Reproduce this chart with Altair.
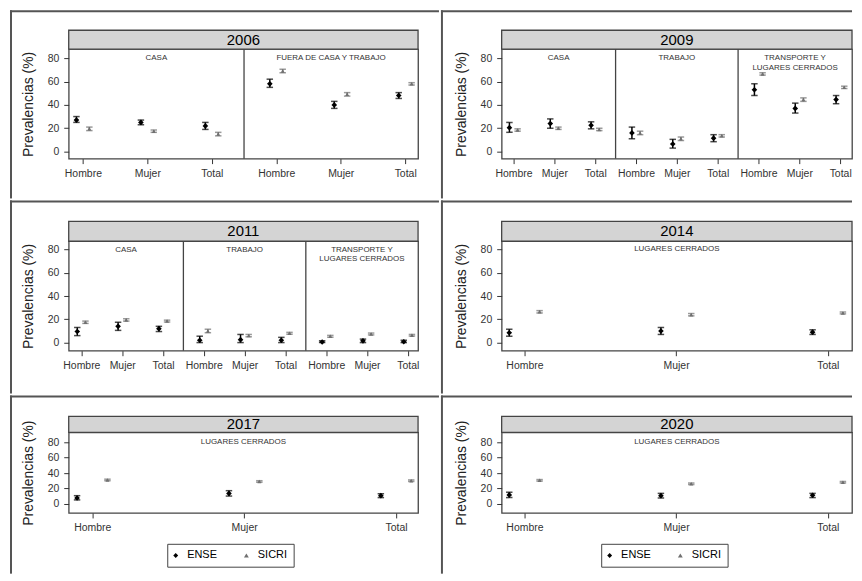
import altair as alt
import pandas as pd

YEARS = ["2006", "2009", "2011", "2014", "2017", "2020"]
GROUPS = ["Hombre", "Mujer", "Total"]
SOURCES = ["ENSE", "SICRI"]
SECTIONS = {
    "2006": ["CASA", "FUERA DE CASA Y TRABAJO"],
    "2009": ["CASA", "TRABAJO", "TRANSPORTE Y\nLUGARES CERRADOS"],
    "2011": ["CASA", "TRABAJO", "TRANSPORTE Y\nLUGARES CERRADOS"],
    "2014": ["LUGARES CERRADOS"],
    "2017": ["LUGARES CERRADOS"],
    "2020": ["LUGARES CERRADOS"],
}

# values ordered section by section, Hombre / Mujer / Total
ENSE_VAL = {
    "2006": [27, 25, 22, 58, 40, 48],
    "2009": [20.5, 24, 22.5, 16, 6.5, 11.5, 53, 37, 44.5],
    "2011": [9.5, 14, 12, 2, 2.5, 2, 0.5, 1.5, 0.7],
    "2014": [8.5, 10, 9],
    "2017": [7.5, 13.5, 10.5],
    "2020": [11.5, 10.5, 11],
}
ENSE_LO = {
    "2006": [25, 23, 19, 55, 37, 45.5],
    "2009": [16.5, 20, 19.5, 11, 3, 8.5, 48, 33, 41],
    "2011": [6, 10.5, 9.5, 0, 0, 0, 0, 0, 0],
    "2014": [5.5, 7, 7],
    "2017": [5, 10, 8],
    "2020": [8, 7.5, 8],
}
ENSE_HI = {
    "2006": [30, 27, 25, 62, 43, 50.5],
    "2009": [25, 28, 25.5, 21, 10.5, 14.5, 58, 41.5, 48],
    "2011": [13, 17.5, 14, 5.5, 7, 4.5, 1.5, 3, 2],
    "2014": [11.5, 13, 11],
    "2017": [10.5, 17, 13],
    "2020": [15, 13.5, 13.5],
}
SICRI_VAL = {
    "2006": [19.5, 17.5, 15, 69, 49, 58],
    "2009": [18.5, 20, 19, 16, 11, 13.5, 66.5, 44.5, 55],
    "2011": [17.5, 19.5, 18.5, 10, 6, 8, 5.4, 7.4, 6.3],
    "2014": [26.5, 24, 25.5],
    "2017": [31, 29, 30],
    "2020": [30.5, 26, 28],
}
SICRI_LO = {
    "2006": [18, 16.5, 13.5, 67.5, 47.5, 57],
    "2009": [17.5, 19, 18, 14.5, 9.5, 12.5, 65.5, 43, 54],
    "2011": [16.5, 18.5, 17.7, 8.5, 5, 7.2, 4.6, 6.6, 5.6],
    "2014": [25.5, 23, 24.7],
    "2017": [30, 28, 29],
    "2020": [29.5, 25, 27],
}
SICRI_HI = {
    "2006": [21, 18.5, 16.5, 70.5, 50.5, 59],
    "2009": [19.5, 21, 20, 17.5, 12.5, 14.5, 67.5, 46, 56],
    "2011": [18.5, 20.5, 19.3, 11.5, 7, 8.8, 6.2, 8.2, 7],
    "2014": [27.5, 25, 26.3],
    "2017": [32, 30, 31],
    "2020": [31.5, 27, 29],
}

LINE = "#555555"
FRAME = "#444444"
GRAY = "#707070"


def build(year):
    rows = []
    for i in range(len(ENSE_VAL[year])):
        base = i + 1
        rows.append({"pos": base - 0.1, "Fuente": "ENSE", "val": ENSE_VAL[year][i],
                     "lo": ENSE_LO[year][i], "hi": ENSE_HI[year][i]})
        rows.append({"pos": base + 0.1, "Fuente": "SICRI", "val": SICRI_VAL[year][i],
                     "lo": SICRI_LO[year][i], "hi": SICRI_HI[year][i]})
    return pd.DataFrame(rows)


def cell(year, w, h, xdom, ydom, strip_h, box, label_y, legend_xy=None):
    x0, x1, y0, y1 = box
    secs = SECTIONS[year]
    n = 3 * len(secs)
    df = build(year)
    xscale = alt.Scale(domain=xdom, nice=False, zero=False)
    yscale = alt.Scale(domain=ydom, nice=False, zero=False)
    one = pd.DataFrame({"year": [year]})

    expr = "[" + ",".join("'%s'" % g for g in GROUPS) + "][(datum.value - 1) % 3]"
    xaxis = alt.Axis(values=list(range(1, n + 1)), labelExpr=expr, title=None,
                     labelPadding=5, labelOverlap=False, tickSize=5)
    yaxis = alt.Axis(values=[0, 20, 40, 60, 80], title="Prevalencias (%)", titlePadding=12,
                     labelPadding=5, tickSize=5)

    bounds = alt.Chart(one).mark_rect(opacity=0).encode(
        x=alt.value(x0), x2=alt.value(x1), y=alt.value(y0), y2=alt.value(y1))
    top = alt.Chart(one).mark_rect(fill=LINE, strokeWidth=0).encode(
        x=alt.value(x0), x2=alt.value(x1), y=alt.value(y0), y2=alt.value(y0 + 2))
    left = alt.Chart(one).mark_rect(fill=LINE, strokeWidth=0).encode(
        x=alt.value(x0), x2=alt.value(x0 + 2), y=alt.value(y0), y2=alt.value(y1))
    strip = alt.Chart(one).mark_rect(fill="#d4d4d4", stroke=FRAME, strokeWidth=1.3).encode(
        x=alt.value(0), x2=alt.value(w), y=alt.value(-strip_h), y2=alt.value(0))
    ytext = alt.Chart(one).mark_text(fontSize=15, color="black", baseline="middle").encode(
        x=alt.value(w / 2), y=alt.value(-strip_h / 2), text="year:N")

    divs = [3 * k + 0.5 for k in range(1, len(secs))]
    edges = [xdom[0]] + divs + [xdom[1]]
    secdf = pd.DataFrame({"s": secs, "c": [(edges[i] + edges[i + 1]) / 2 for i in range(len(secs))]})
    layers = [bounds, top, left, strip, ytext]
    if divs:
        ddf = pd.DataFrame({"d": divs})
        layers.append(alt.Chart(ddf).mark_rule(color=FRAME, strokeWidth=1.3).encode(
            x=alt.X("d:Q", scale=xscale, axis=xaxis)))
    layers.append(alt.Chart(secdf).mark_text(fontSize=8, color="#333333", lineBreak="\n",
                                             baseline="middle", lineHeight=9.5).encode(
        x=alt.X("c:Q", scale=xscale, axis=xaxis), y=alt.value(label_y), text="s:N"))

    col = alt.condition(alt.datum.Fuente == "ENSE", alt.value("black"), alt.value(GRAY))

    bars = alt.Chart(df).mark_rule(strokeWidth=1.5).encode(
        x=alt.X("pos:Q", scale=xscale, axis=xaxis),
        y=alt.Y("lo:Q", scale=yscale, axis=yaxis), y2="hi:Q", color=col)
    caps = alt.Chart(df).transform_fold(["lo", "hi"], as_=["k", "v"]).mark_tick(
        orient="horizontal", size=6.5, thickness=1.5).encode(
        x=alt.X("pos:Q", scale=xscale, axis=xaxis),
        y=alt.Y("v:Q", scale=yscale, axis=yaxis), color=col)
    if legend_xy:
        leg = alt.Legend(title=None, orient="none", legendX=legend_xy[0], legendY=legend_xy[1],
                         direction="horizontal", strokeColor=FRAME, padding=6, symbolSize=24,
                         symbolOffset=-3, labelOffset=6, columnPadding=27,
                         labelFontSize=11, labelColor="black")
    else:
        leg = None
    pts = alt.Chart(df).mark_point(filled=True, opacity=1).encode(
        x=alt.X("pos:Q", scale=xscale, axis=xaxis),
        y=alt.Y("val:Q", scale=yscale, axis=yaxis),
        color=alt.Color("Fuente:N", scale=alt.Scale(domain=SOURCES, range=["black", GRAY]), legend=leg),
        shape=alt.Shape("Fuente:N", scale=alt.Scale(domain=SOURCES, range=["diamond", "triangle-up"]), legend=leg),
        size=alt.condition(alt.datum.Fuente == "ENSE", alt.value(32), alt.value(16)))
    layers += [bars, caps, pts]
    return alt.layer(*layers).properties(width=w, height=h)


LBOX = lambda y0, y1: (-59, 372, y0, y1)
RBOX = lambda y0, y1: (-61, 352, y0, y1)

c2006 = cell("2006", 351, 110, [0.78, 6.2], [-6, 87.7], 19, LBOX(-39, 150), 9)
c2009 = cell("2009", 352, 110, [0.71, 9.29], [-6, 87.7], 19, RBOX(-39, 150), 9)
c2011 = cell("2011", 351, 110, [0.69, 9.25], [-7, 87.2], 20, LBOX(-41, 153), 8.5)
c2014 = cell("2014", 352, 110, [0.85, 3.16], [-7, 87.2], 20, RBOX(-41, 153), 8)
c2017 = cell("2017", 351, 81, [0.845, 3.145], [-12, 93], 16, LBOX(-37, 142), 10, (99, 112))
c2020 = cell("2020", 352, 81, [0.85, 3.16], [-12, 93], 16, RBOX(-37, 142), 10, (100, 112))

chart = alt.concat(c2006, c2009, c2011, c2014, c2017, c2020, columns=2, spacing=0, align="each").resolve_scale(
    color="independent", shape="independent"
).properties(
    padding={"left": 1, "top": 0, "right": 0, "bottom": 0}
).configure(
    font="Liberation Sans"
).configure_view(
    stroke=FRAME, strokeWidth=1.3
).configure_axis(
    grid=False, domain=False, labelFontSize=10.5, labelColor="#333333", tickColor="#333333",
    titleFontWeight="normal", titleFontSize=14, titleColor="#222222"
)

chart.save("out.html", embed_options={"renderer": "svg", "actions": False})
